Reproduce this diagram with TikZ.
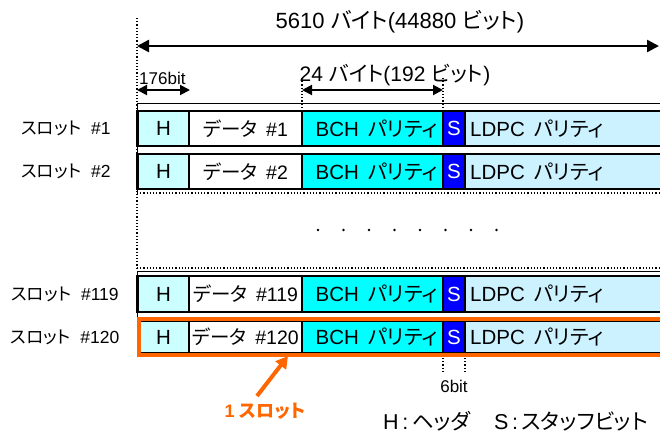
\documentclass[tikz,border=0pt]{standalone}
\usepackage{fontspec}
\setmainfont{Liberation Sans}
\newfontfamily\jp{Noto Sans CJK JP}[RawFeature=+palt]
\usetikzlibrary{arrows.meta}
\definecolor{hcol}{HTML}{CCFFFF}
\definecolor{bchcol}{HTML}{00FFFF}
\definecolor{scol}{HTML}{0000FF}
\definecolor{ldpccol}{HTML}{CCF2FF}
\definecolor{orng}{HTML}{FF6600}
\tikzset{
  cellbox/.style={draw=black, line width=1.5pt, anchor=north west, inner sep=0pt, outer sep=0pt},
  ctext/.style={font=\fontsize{20.5}{20.5}\selectfont, inner sep=0pt},
  dtext/.style={font=\fontsize{19.5}{19.5}\selectfont, inner sep=0pt},
  rowlabel/.style={font=\fontsize{17.5}{17.5}\selectfont, inner sep=0pt},
  dimtxt/.style={font=\fontsize{22}{22}\selectfont, inner sep=0pt},
  smalltxt/.style={font=\fontsize{17}{17}\selectfont, inner sep=0pt},
  dimarrow/.style={line width=2.5pt, {Triangle[length=12pt,width=12pt]}-{Triangle[length=12pt,width=12pt]}},
  dimarrowsm/.style={line width=2pt, {Triangle[length=10pt,width=10pt]}-{Triangle[length=10pt,width=10pt]}},
  dotline/.style={line width=1.2pt, dotted},
  frameline/.style={line width=0.8pt},
  rowframe/.style={line width=2.5pt},
}
\newcommand\slotrow[4]{% #1 name, #2 top, #3 height, #4 data number
  \node[cellbox, fill=hcol, minimum width=51pt, minimum height=#3pt] (#1h) at (138,#2) {};
  \node[ctext] (#1ht) at (#1h.center) {H};
  \node[cellbox, fill=white, minimum width=113pt, minimum height=#3pt] (#1d) at (189,#2) {};
  \node[dtext] (#1dt) at (#1d.center) {{\jp データ}\ \,\#{#4}};
  \node[cellbox, fill=bchcol, minimum width=141pt, minimum height=#3pt] (#1b) at (302,#2) {};
  \node[ctext] (#1bt) at ([xshift=4pt]#1b.center) {BCH\ \,{\jp パリティ}};
  \node[cellbox, fill=scol, minimum width=22pt, minimum height=#3pt] (#1s) at (443,#2) {};
  \node[ctext, text=white] (#1st) at (#1s.center) {S};
  \node[cellbox, fill=ldpccol, minimum width=210pt, minimum height=#3pt] (#1l) at (465,#2) {};
  \node[ctext, anchor=west] (#1lt) at ([xshift=5pt]#1l.west) {LDPC\ \,{\jp パリティ}};
}
\begin{document}
\begin{tikzpicture}[x=1pt,y=-1pt]
\useasboundingbox (0,0) rectangle (660,434);
\clip (0,0) rectangle (660,434);

% overall dimension
\node[dimtxt] (title) at (400,22) {5610 {\jp バイト}(44880 {\jp ビット})};
\coordinate (dtop) at (137,18);
\coordinate (dbot) at (137,270);
\draw[dotline] (dtop) -- (dbot);
\coordinate (a1l) at (137,46);
\coordinate (a1r) at (659,46);
\draw[dimarrow] (a1l) -- (a1r);

% 176bit
\node[smalltxt, anchor=west] (t176) at (139,78) {176bit};
\coordinate (a2l) at (137,90);
\coordinate (a2r) at (190,90);
\draw[dimarrowsm] (a2l) -- (a2r);

% 24 byte
\node[dimtxt, font=\fontsize{21}{21}\selectfont] (t24) at (395,75) {24 {\jp バイト}(192 {\jp ビット})};
\coordinate (b1t) at (302,78); \coordinate (b1b) at (302,111);
\coordinate (b2t) at (443,78); \coordinate (b2b) at (443,111);
\draw[dotline] (b1t) -- (b1b);
\draw[dotline] (b2t) -- (b2b);
\draw[dimarrowsm] (b1t |- a2l) -- (b2t |- a2l);

% upper frame
\draw[frameline] (137,193) -- (137,103) -- (668,103);
\draw[dotline] (137,193) -- (668,193);
% dotted middle region
\draw[dotline] (137,268) -- (668,268);
% lower frame
\draw[frameline] (137,357) -- (137,271) -- (668,271);

% rows
\draw[rowframe] (137,111) rectangle (668,146);
\slotrow{ra}{111}{35}{1}
\draw[rowframe] (137,154) rectangle (668,189);
\slotrow{rb}{154}{35}{2}
\draw[rowframe] (137,276) rectangle (668,312);
\slotrow{rc}{276}{36}{119}
\slotrow{rd}{321}{32}{120}
\draw[line width=4pt, orng] (139,319) rectangle (668,355);

% row labels
\node[rowlabel] (la) at (66,128) {{\jp スロット}\ \ \#1};
\node[rowlabel] (lb) at (66,171) {{\jp スロット}\ \ \#2};
\node[rowlabel] (lc) at (65,294) {{\jp スロット}\ \ \#119};
\node[rowlabel] (ld) at (65,337) {{\jp スロット}\ \ \#120};

% dots
\foreach \i in {0,...,7} {\fill (318+25.5*\i,230) circle (1.4pt);}

% 6bit
\coordinate (s1t) at (443,358); \coordinate (s1b) at (443,373);
\coordinate (s2t) at (465,358); \coordinate (s2b) at (465,373);
\draw[dotline] (s1t) -- (s1b);
\draw[dotline] (s2t) -- (s2b);
\node[smalltxt] (t6) at (454,386) {6bit};

% 1 slot arrow
\node[text=orng, inner sep=0pt, font=\fontsize{18}{18}\selectfont\bfseries] (one) at (265,411) {1 {\jp スロット}};
\coordinate (oarr) at (288,356);
\draw[orng, line width=4pt, -{Triangle[length=12pt,width=13pt]}] (257,396) -- (oarr);

% legend
\node[font=\fontsize{21.5}{21.5}\selectfont, inner sep=0pt, anchor=west] (leg) at (383,421) {H\,:\,{\jp ヘッダ}\ \ \ \ S\,:\,{\jp スタッフビット}};
\end{tikzpicture}
\end{document}
